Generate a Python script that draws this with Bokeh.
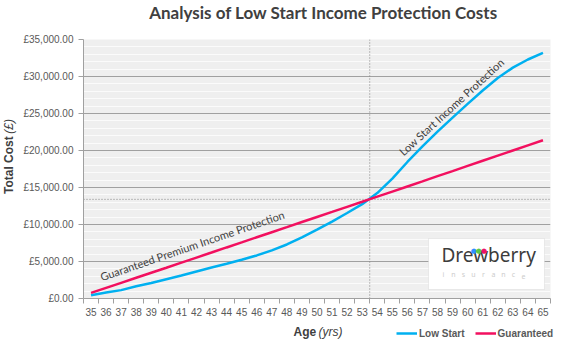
import math
from bokeh.plotting import figure
from bokeh.layouts import row, column
from bokeh.models import (FixedTicker, Range1d, Span, Label, BoxAnnotation,
                          Legend, LegendItem)
from bokeh.embed import file_html
from bokeh.resources import INLINE

# ---------------- data ----------------
ages = [35, 36, 37, 38, 39, 40, 41, 42, 43, 44, 45, 46, 47, 48, 49, 50,
        51, 52, 53, 54, 55, 56, 57, 58, 59, 60, 61, 62, 63, 64, 65]
low_start = [450, 800, 1130, 1650, 2100, 2600, 3100, 3650, 4180, 4700,
             5230, 5820, 6500, 7300, 8250, 9300, 10400, 11550, 12750, 14250,
             16200, 18450, 20550, 22550, 24450, 26300, 28100, 29800, 31200,
             32300, 33180]
guaranteed = [760, 1440, 2120, 2800, 3480, 4160, 4850, 5530, 6210, 6900,
              7580, 8270, 8960, 9640, 10330, 11020, 11700, 12390, 13070, 13760,
              14450, 15140, 15830, 16530, 17220, 17920, 18620, 19310, 20000,
              20690, 21380]
y_ticks = [0, 5000, 10000, 15000, 20000, 25000, 30000, 35000]
y_tick_labels = ["£0.00", "£5,000.00", "£10,000.00", "£15,000.00",
                 "£20,000.00", "£25,000.00", "£30,000.00", "£35,000.00"]
y_minor = [v for v in range(0, 35001, 1000) if v % 5000 != 0]
breakeven_age = 53.5
breakeven_cost = 13400

title = "Analysis of Low Start Income Protection Costs"
series_names = ["Low Start", "Guaranteed"]
colors = ["#00b0f0", "#f2105f"]
TXT = "#404040"
TICK = "#595959"


def strip(w, h):
    f = figure(width=w, height=h, x_range=Range1d(0, w), y_range=Range1d(0, h),
               output_backend="svg", toolbar_location=None, x_axis_type=None,
               y_axis_type=None, min_border=0, title=None)
    f.outline_line_color = None
    f.grid.visible = False
    return f


# ---------------- top strip: title ----------------
pt = strip(580, 32)
pt.add_layout(Label(x=323, y=9.5, text=title, text_align="center",
                    text_font="Lato", text_font_style="bold",
                    text_font_size="17px", text_color=TXT))

# ---------------- main chart ----------------
p = figure(width=560, height=290, x_range=Range1d(34.5, 65.5),
           y_range=Range1d(0, 35000), output_backend="svg",
           toolbar_location=None, min_border_left=63, min_border_right=30,
           min_border_top=7, min_border_bottom=24, title=None)
p.outline_line_color = None
p.background_fill_color = "#efefef"
p.border_fill_color = "white"

# x axis
p.xaxis.ticker = FixedTicker(ticks=ages,
                             minor_ticks=[a - 0.5 for a in ages] + [ages[-1] + 0.5])
p.xaxis.major_tick_out = 0
p.xaxis.major_tick_in = 0
p.xaxis.minor_tick_out = 5
p.xaxis.minor_tick_in = 0
p.xaxis.minor_tick_line_color = "#a0a0a0"
p.xaxis.axis_line_color = "#a0a0a0"
p.xaxis.major_label_standoff = 4
p.xaxis.major_label_text_font = "Liberation Sans"
p.xaxis.major_label_text_font_size = "10px"
p.xaxis.major_label_text_color = TICK
p.xgrid.visible = False

# y axis
p.yaxis.ticker = FixedTicker(ticks=y_ticks, minor_ticks=y_minor)
p.yaxis.major_label_overrides = {t: l for t, l in zip(y_ticks, y_tick_labels)}
p.yaxis.major_tick_out = 5
p.yaxis.major_tick_in = 0
p.yaxis.major_tick_line_color = "#a0a0a0"
p.yaxis.minor_tick_line_color = None
p.yaxis.axis_line_color = "#a0a0a0"
p.yaxis.major_label_standoff = 5
p.yaxis.major_label_text_font = "Liberation Sans"
p.yaxis.major_label_text_font_size = "10px"
p.yaxis.major_label_text_color = TICK
p.ygrid.grid_line_color = "#a0a0a0"
p.ygrid.grid_line_width = 1.2
p.ygrid.minor_grid_line_color = "#fbfbfb"
p.ygrid.minor_grid_line_width = 1

# reference lines
p.add_layout(Span(location=breakeven_age, dimension="height", line_color="#808080",
                  line_dash="1 2", line_width=1, level="underlay"))
p.add_layout(Span(location=breakeven_cost, dimension="width", line_color="#808080",
                  line_dash="1 2", line_width=1, level="underlay"))

# series
p.line(ages, low_start, line_color=colors[0], line_width=2.5)
p.line(ages, guaranteed, line_color=colors[1], line_width=2.5)

# line annotations
p.add_layout(Label(x=35.77, y=2070, text="Guaranteed Premium Income Protection",
                   angle=math.radians(19), text_font="Lato", text_font_size="11px",
                   text_color=TXT))
p.add_layout(Label(x=55.85, y=19000, text="Low Start Income Protection",
                   angle=math.radians(42.5), text_font="Lato", text_font_size="11px",
                   text_color=TXT))

# logo box (screen units relative to the plot frame)
p.add_layout(BoxAnnotation(left=345, right=461, top=60, bottom=9,
                           left_units="screen", right_units="screen",
                           top_units="screen", bottom_units="screen",
                           fill_color="white", fill_alpha=1,
                           line_color="#c8c8c8", line_width=1))
p.add_layout(Label(x=358, y=31, x_units="screen", y_units="screen",
                   text="Drewberry", text_font="Noto Sans", text_font_size="19px",
                   text_color="#3c3c3c"))
for dx, c in zip([390.3, 395.3, 400.6], ["#2e8fff", "#5cc84a", "#ee1166"]):
    p.add_layout(Label(x=dx, y=47.5, x_units="screen", y_units="screen", text="●",
                       text_align="center", text_baseline="middle",
                       text_font="DejaVu Sans", text_font_size="7px", text_color=c))
for i, ch in enumerate("insurance"):
    p.add_layout(Label(x=360 + i * 10, y=20, x_units="screen", y_units="screen",
                       text=ch, text_align="center", text_font="Noto Sans",
                       text_font_size="7px", text_color="#cccccc"))

# ---------------- left strip: y-axis title ----------------
pl = strip(20, 290)
pl.add_layout(Label(x=15.5, y=117, text="Total Cost", angle=math.pi / 2,
                    text_font="Liberation Sans", text_font_style="bold",
                    text_font_size="12px", text_color=TXT))
pl.add_layout(Label(x=15.5, y=184.5, text="(£)", angle=math.pi / 2,
                    text_font="Liberation Sans", text_font_style="italic",
                    text_font_size="12px", text_color=TXT))

# ---------------- bottom strip: x-axis title and legend ----------------
pb = strip(580, 28)
pb.add_layout(Label(x=293, y=12, text="Age", text_font="Liberation Sans",
                    text_font_style="bold", text_font_size="12px", text_color=TXT))
pb.add_layout(Label(x=318, y=12, text="(yrs)", text_font="Liberation Sans",
                    text_font_style="italic", text_font_size="12px", text_color=TXT))
k1 = pb.line(x=[-10, -9], y=[-10, -10], line_color=colors[0], line_width=2.5)
k2 = pb.line(x=[-10, -9], y=[-10, -10], line_color=colors[1], line_width=2.5)
legend = Legend(items=[LegendItem(label=series_names[0], renderers=[k1]),
                       LegendItem(label=series_names[1], renderers=[k2])],
                location=(396, 11), orientation="horizontal",
                glyph_width=21, glyph_height=12, label_height=12,
                label_standoff=2, spacing=10, padding=0, margin=0,
                border_line_color=None, background_fill_alpha=0,
                label_text_font="Liberation Sans", label_text_font_style="bold",
                label_text_font_size="10px", label_text_color=TICK)
pb.add_layout(legend)

layout = column(pt, row(pl, p), pb)
open("out.html", "w").write(file_html(layout, INLINE))
